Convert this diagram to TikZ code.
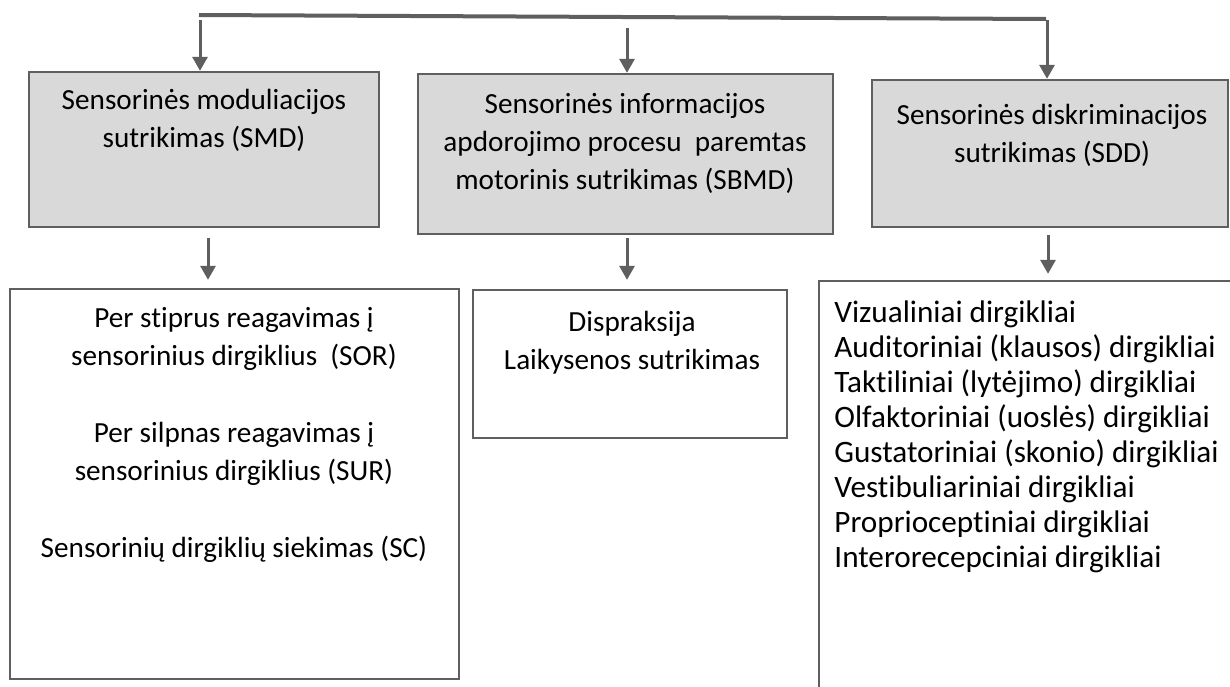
\documentclass[tikz,border=0pt]{standalone}
\usepackage{fontspec}
\setmainfont[Ligatures={NoCommon,NoContextual}]{Carlito}
\usetikzlibrary{arrows.meta,fit}
\definecolor{ln}{HTML}{5F5F5F}
\definecolor{gfill}{HTML}{D9D9D9}
\begin{document}
\begin{tikzpicture}[x=0.5pt,y=-0.5pt,
  box/.style={draw=ln,line width=1.2pt,inner sep=0pt},
  graybox/.style={box,fill=gfill},
  txt/.style={inner sep=0pt,font=\fontsize{14.6pt}{19pt}\selectfont,text=black},
  arr/.style={draw=ln,line width=1.5pt,-{Triangle[width=7.5pt,length=7pt]}},
  bar/.style={draw=ln,line width=2pt}]
\clip (0,0) rectangle (1230,686);
\fill[white] (0,0) rectangle (1230,686);
% boxes
\node[graybox,fit={(29,72) (379,227)}] (b1) {};
\node[graybox,fit={(418,74) (833,234)}] (b2) {};
\node[graybox,fit={(872,80) (1228,227)}] (b3) {};
\node[box,fit={(10,289) (459,679)}] (b4) {};
\node[box,fit={(473,290) (787,438)}] (b5) {};
\node[box,fit={(819,281) (1250,720)}] (b6) {};
% texts
\node[txt,align=center,anchor=north] (t1) at (204,89) {Sensorinės moduliacijos\\sutrikimas (SMD)};
\node[txt,align=center,anchor=north] (t2) at (625,93) {Sensorinės informacijos\\apdorojimo procesu\ \ paremtas\\motorinis sutrikimas (SBMD)};
\node[txt,align=center,anchor=north] (t3) at (1052,104) {Sensorinės diskriminacijos\\sutrikimas (SDD)};
\node[txt,align=center,anchor=north] (t4) at (234,307) {Per stiprus reagavimas į\\sensorinius dirgiklius\ \ (SOR)\\[19.5pt]Per silpnas reagavimas į\\sensorinius dirgiklius (SUR)\\[19.5pt]Sensorinių dirgiklių siekimas (SC)};
\node[txt,align=center,anchor=north] (t5) at (632,311) {Dispraksija\\Laikysenos sutrikimas};
\node[txt,align=left,anchor=north west,font=\fontsize{15.6pt}{17.5pt}\selectfont] (t6) at (834,300) {Vizualiniai dirgikliai\\Auditoriniai (klausos) dirgikliai\\Taktiliniai (lytėjimo) dirgikliai\\Olfaktoriniai (uoslės) dirgikliai\\Gustatoriniai (skonio) dirgikliai\\Vestibuliariniai dirgikliai\\Proprioceptiniai dirgikliai\\Interorecepciniai dirgikliai};
% top bar
\coordinate (L) at (199,15);
\coordinate (R) at (1046,19);
\draw[bar] (L) -- (R);
\coordinate (s1) at (200,20);
\coordinate (s2) at (627,28);
\coordinate (s3) at (1047,20);
\draw[arr] (s1) -- (s1 |- b1.north);
\draw[arr] (s2) -- (s2 |- b2.north);
\draw[arr] (s3) -- (s3 |- b3.north);
% lower arrows
\coordinate (d1) at (208,238);
\coordinate (d2) at (627,238);
\coordinate (d3) at (1048,235);
\draw[arr,shorten >=4pt] (d1) -- (d1 |- b4.north);
\draw[arr,shorten >=4.5pt] (d2) -- (d2 |- b5.north);
\draw[arr,shorten >=3pt] (d3) -- (d3 |- b6.north);
\end{tikzpicture}
\end{document}
